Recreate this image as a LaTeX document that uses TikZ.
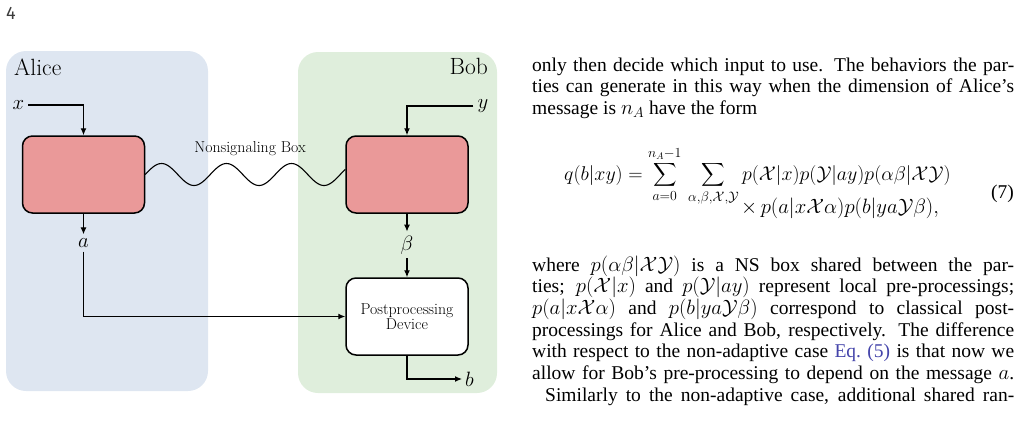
\documentclass[tikz,border=0pt]{standalone}
\usepackage{amsmath}
\usepackage{graphicx}
\usepackage{fontspec}
\usetikzlibrary{arrows.meta,calc}
\newfontfamily\bodyfont{Liberation Serif}
\newfontfamily\headfont{Fira Sans}
\definecolor{alicebg}{RGB}{222,230,241}
\definecolor{bobbg}{RGB}{223,238,220}
\definecolor{boxred}{RGB}{234,153,153}
\definecolor{linkcol}{RGB}{68,68,170}
\definecolor{pagegray}{RGB}{60,60,60}
\newcommand{\smallsum}{\mathop{\vcenter{\hbox{\scalebox{0.82}{$\displaystyle\sum$}}}}\limits}
\begin{document}
\begin{tikzpicture}[x=1pt,y=-1pt,
  region/.style={rounded corners=20pt, inner sep=0pt},
  devbox/.style={draw=black, line width=1.5pt, rounded corners=10pt, minimum width=122pt, minimum height=77pt, inner sep=0pt, align=center},
  arr/.style={line width=1.2pt, -{Latex[length=7pt,width=6pt]}},
  wave/.style={line width=1.1pt},
  mlbl/.style={font=\fontsize{20}{24}\selectfont, inner sep=4pt},
  figtext/.style={font=\fontsize{15.8}{15.5}\selectfont, inner sep=0pt},
  partytext/.style={font=\fontsize{23.5}{26}\selectfont, inner sep=0pt},
  bodytext/.style={font=\bodyfont\fontsize{19.5}{21.7}\selectfont, inner sep=0pt}
]
\useasboundingbox (0,0) rectangle (1029,421);

% page number
\node[font=\headfont\fontsize{18}{20}\selectfont, text=pagegray, anchor=base west, inner sep=0pt] (pg) at (6,19.5) {4};

% regions
\node[region, fill=alicebg, minimum width=202pt, minimum height=340pt] (alice) at (107,221) {};
\node[region, fill=bobbg, minimum width=199pt, minimum height=341pt] (bob) at (397.5,222.5) {};
\node[partytext, anchor=base west] (alicet) at (14,75) {Alice};
\node[partytext, anchor=base east] (bobt) at (488,74) {Bob};

% devices
\node[devbox, fill=boxred] (A) at (83.5,174.5) {};
\node[devbox, fill=boxred] (B) at (407,174.5) {};
\node[devbox, fill=white, figtext] (P) at (407,316.5) {Postprocessing\\Device};

% labels
\node[mlbl] (xl) at (18.5,105) {$x$};
\node[mlbl] (yl) at (483,106) {$y$};
\node[mlbl] (al) at (83.5,243) {$a$};
\node[mlbl] (bl) at (407,245) {$\beta$};
\node[mlbl, anchor=west, inner sep=3pt] (bo) at (462,379) {$b$};
\node[figtext, anchor=base] (nsl) at (250,152) {Nonsignaling Box};

% connectors
\draw[arr] (xl.east) -| (A.north);
\draw[arr] (yl.west) -| (B.north);
\draw[arr] (A.south) -- (al.north);
\draw[arr] (al.south) |- (P.west);
\draw[arr] (B.south) -- (bl.north);
\draw[arr] (bl.south) -- (P.north);
\draw[arr] (P.south) |- (bo.west);
\draw[wave] let \p1=(A.east), \p2=(B.west) in
  plot[variable=\t, domain=\x1:\x2, samples=120, smooth] ({\t*1pt},{\y1+11pt*sin(((\t-\x1)/65)*360)});

% text column
\node[bodytext, anchor=base west] (par1) at (532,71) {\vtop{%
\hbox to 482pt{only then decide which input to use. The behaviors the par-}
\hbox to 482pt{ties can generate in this way when the dimension of Alice’s}
\hbox{message is $n_A$ have the form}}};

\node[bodytext, anchor=base west] (eq1) at (564,180) {\scalebox{0.96}{$\displaystyle q(b|xy) = \smallsum_{a=0}^{n_A-1}\,\smallsum_{\alpha,\beta,\mathcal{X},\mathcal{Y}} p(\mathcal{X}|x)p(\mathcal{Y}|ay)p(\alpha\beta|\mathcal{X}\mathcal{Y})$}};
\node[bodytext, anchor=base west] (eq2) at (741,213) {$\displaystyle \times\, p(a|x\mathcal{X}\alpha)p(b|ya\mathcal{Y}\beta),$};
\node[bodytext, anchor=base east] (eqn) at (1014,198) {(7)};

\node[bodytext, anchor=base west] (par2) at (532,271) {\vtop{%
\hbox to 482pt{where $p(\alpha\beta|\mathcal{X}\mathcal{Y})$ is a NS box shared between the par-}
\hbox to 482pt{ties; $p(\mathcal{X}|x)$ and $p(\mathcal{Y}|ay)$ represent local pre-processings;}
\hbox to 482pt{$p(a|x\mathcal{X}\alpha)$ and $p(b|ya\mathcal{Y}\beta)$ correspond to classical post-}
\hbox to 482pt{processings for Alice and Bob, respectively. The difference}
\hbox to 482pt{with respect to the non-adaptive case \textcolor{linkcol}{Eq.~(5)} is that now we}
\hbox to 482pt{allow for Bob’s pre-processing to depend on the message $a$.}
\hbox to 482pt{\hskip13pt Similarly to the non-adaptive case, additional shared ran-}}};
\end{tikzpicture}
\end{document}
